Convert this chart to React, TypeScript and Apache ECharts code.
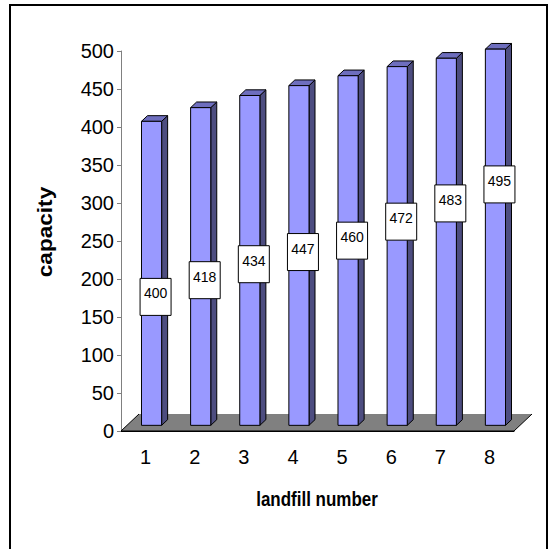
import React, { useEffect, useRef } from "react";
import * as echarts from "echarts";

const categories = ["1", "2", "3", "4", "5", "6", "7", "8"];
const capacity = [400, 418, 434, 447, 460, 472, 483, 495];
// value-axis heights at which the original chart placed its data labels
const labelAnchors = [169, 191, 212, 228, 243, 268, 292, 317];
const yMin = 0;
const yMax = 500;
const yInterval = 50;

const FONT = "Arial, 'Liberation Sans', sans-serif";
const DEPTH_X = 18;
const DEPTH_Y = -17;

export default function App() {
  const ref = useRef<HTMLDivElement>(null);
  useEffect(() => {
    if (!ref.current) return;
    const chart = echarts.init(ref.current, undefined, { renderer: "svg" });
    const option: any = {
      animation: false,
      backgroundColor: "#ffffff",
      grid: { left: 121, top: 51, width: 393, height: 380, containLabel: false },
      xAxis: {
        type: "category",
        data: categories,
        axisLine: { lineStyle: { color: "#000", width: 1 } },
        axisTick: { length: 6, lineStyle: { color: "#333" } },
        axisLabel: { color: "#000", fontSize: 20, fontFamily: FONT, margin: 16 },
        splitLine: { show: false },
      },
      yAxis: {
        type: "value",
        min: yMin,
        max: yMax,
        interval: yInterval,
        axisLine: { show: true, lineStyle: { color: "#808080", width: 1 } },
        axisTick: { show: true, length: 4, lineStyle: { color: "#808080" } },
        axisLabel: { color: "#000", fontSize: 20, fontFamily: FONT, margin: 7 },
        splitLine: { show: false },
      },
      graphic: [
        {
          type: "rect",
          shape: { x: 10, y: 5, width: 537, height: 570 },
          style: { fill: "none", stroke: "#000", lineWidth: 2 },
          silent: true,
        },
        {
          type: "text",
          x: 45,
          y: 232,
          rotation: Math.PI / 2,
          scaleX: 1.13,
          style: {
            text: "capacity",
            font: `bold 20px ${FONT}`,
            fill: "#000",
            align: "center",
            verticalAlign: "middle",
            textAlign: "center",
            textVerticalAlign: "middle",
          },
        },
        {
          type: "text",
          x: 317,
          y: 499,
          scaleY: 1.15,
          style: {
            text: "landfill number",
            font: `bold 17px ${FONT}`,
            fill: "#000",
            align: "center",
            verticalAlign: "middle",
            textAlign: "center",
            textVerticalAlign: "middle",
          },
        },
      ],
      series: [
        {
          type: "custom",
          name: "floor",
          data: [[0, 0]],
          renderItem: (params: any) => {
            const cs = params.coordSys;
            const x = cs.x, y = cs.y + cs.height, w = cs.width;
            const pts = [
              [x, y],
              [x + w, y],
              [x + w + DEPTH_X, y + DEPTH_Y],
              [x + DEPTH_X, y + DEPTH_Y],
            ];
            return {
              type: "group",
              children: [
                { type: "polygon", shape: { points: pts }, style: { fill: "#808080", stroke: "none" } },
                {
                  type: "polyline",
                  shape: { points: [pts[3], pts[0], pts[1], pts[2]] },
                  style: { fill: "none", stroke: "#000", lineWidth: 1 },
                },
              ],
            };
          },
          z: 1,
        },
        {
          type: "custom",
          name: "capacity",
          data: capacity.map((v, i) => [i, v, labelAnchors[i]]),
          encode: { x: 0, y: 1 },
          renderItem: (params: any, api: any) => {
            const i = api.value(0);
            const v = api.value(1);
            const la = api.value(2);
            const base = api.coord([i, 0]);
            const top = api.coord([i, v]);
            const band = api.size([1, 0])[0];
            const w = band * 0.41;
            const fx = DEPTH_X / 3, fy = DEPTH_Y / 3;
            const x0 = base[0] - w / 2 + fx;
            const x1 = x0 + w;
            const yb = base[1] + fy;
            const yt = top[1] + fy;
            const lc = api.coord([i, la]);
            const lx = base[0] + 10;
            const ly = lc[1] + fy;
            const bw = 31, bh = 37;
            return {
              type: "group",
              children: [
                {
                  type: "polygon",
                  shape: { points: [[x1, yb], [x1 + fx, yb + fy], [x1 + fx, yt + fy], [x1, yt]] },
                  style: { fill: "#4D4D80", stroke: "#000", lineWidth: 1 },
                },
                {
                  type: "polygon",
                  shape: { points: [[x0, yt], [x1, yt], [x1 + fx, yt + fy], [x0 + fx, yt + fy]] },
                  style: { fill: "#6E6EBE", stroke: "#000", lineWidth: 1 },
                },
                {
                  type: "rect",
                  shape: { x: x0, y: yt, width: w, height: yb - yt },
                  style: { fill: "#9999FF", stroke: "#000", lineWidth: 1 },
                },
                {
                  type: "rect",
                  shape: { x: lx - bw / 2, y: ly - bh / 2, width: bw, height: bh },
                  style: { fill: "#fff", stroke: "#000", lineWidth: 1 },
                },
                {
                  type: "text",
                  style: {
                    text: String(v),
                    x: lx,
                    y: ly - 3.5,
                    align: "center",
                    verticalAlign: "middle",
                    font: `14px ${FONT}`,
                    fill: "#000",
                  },
                },
              ],
            };
          },
          z: 2,
        },
      ],
    };
    chart.setOption(option);
    return () => chart.dispose();
  }, []);
  return (
    <div
      ref={ref}
      style={{ position: "absolute", left: 0, top: 0, width: 552, height: 549 }}
    />
  );
}
